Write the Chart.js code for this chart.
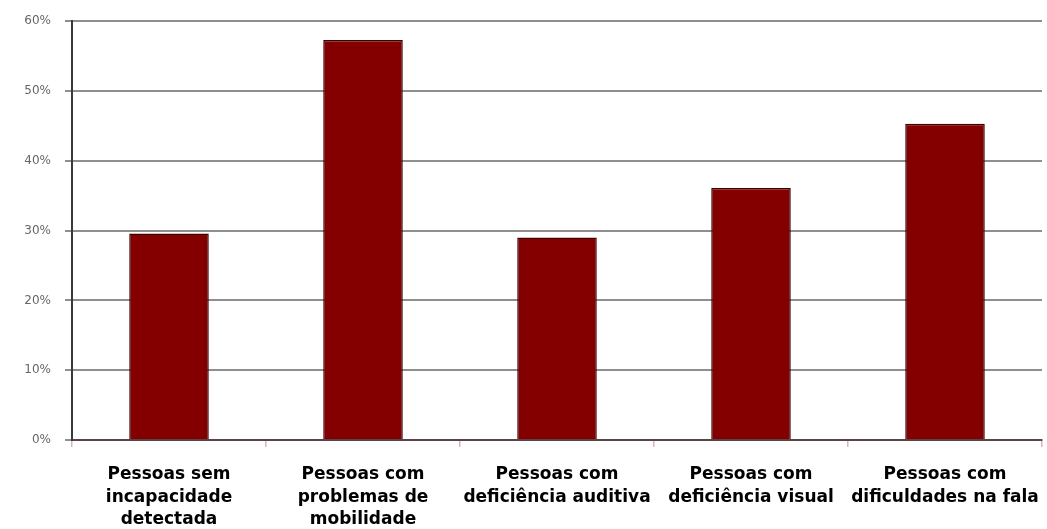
<!DOCTYPE html>
<html>
<head>
<meta charset="utf-8">
<script src="https://cdn.jsdelivr.net/npm/chart.js@4/dist/chart.umd.min.js"></script>
<style>
  html, body { margin: 0; padding: 0; background: #fff; overflow: hidden; }
  #wrap { position: relative; width: 1047px; height: 529px; }
</style>
</head>
<body>
<div id="wrap"><canvas id="chart"></canvas></div>
<script>
// Share of people per group (percent)
const categories = [
  ["Pessoas sem", "incapacidade", "detectada"],
  ["Pessoas com", "problemas de", "mobilidade"],
  ["Pessoas com", "deficiência auditiva"],
  ["Pessoas com", "deficiência visual"],
  ["Pessoas com", "dificuldades na fala"]
];
const values = [29.6, 57.3, 29.0, 36.1, 45.3];
const yTicks = [0, 10, 20, 30, 40, 50, 60];

new Chart(document.getElementById('chart'), {
  type: 'bar',
  data: {
    labels: categories,
    datasets: [{
      data: values,
      backgroundColor: '#840000',
      borderColor: '#3f0000',
      borderWidth: 1.5,
      categoryPercentage: 1.0,
      barPercentage: 0.41
    }]
  },
  options: {
    responsive: true,
    maintainAspectRatio: false,
    animation: false,
    layout: { padding: { top: 21, right: 5, bottom: 0, left: 0 } },
    plugins: { legend: { display: false }, tooltip: { enabled: false } },
    scales: {
      x: {
        offset: true,
        grid: {
          display: true,
          drawOnChartArea: false,
          drawTicks: true,
          tickLength: 7,
          color: '#d8b4bb',
          lineWidth: 1.5,
          offset: true
        },
        border: { display: true, color: '#5a4448', width: 2 },
        ticks: {
          color: '#000',
          font: { family: 'DejaVu Sans', size: 17, weight: 'bold', lineHeight: 1.3 },
          padding: 17,
          maxRotation: 0,
          minRotation: 0,
          autoSkip: false
        },
        afterFit: (s) => { s.height = 529 - 440; s.paddingLeft = 0; s.paddingRight = 0; }
      },
      y: {
        min: 0,
        max: 60,
        afterBuildTicks: (s) => { s.ticks = yTicks.map(v => ({ value: v })); },
        grid: {
          color: '#8f8f8f',
          lineWidth: 2,
          tickLength: 7,
          drawTicks: true
        },
        border: { display: true, color: '#3a3a3a', width: 2 },
        ticks: {
          color: '#666',
          font: { family: 'DejaVu Sans', size: 12 },
          padding: 14,
          callback: (v) => v + '%'
        },
        afterFit: (s) => { s.width = 72; }
      }
    }
  }
});
</script>
</body>
</html>
